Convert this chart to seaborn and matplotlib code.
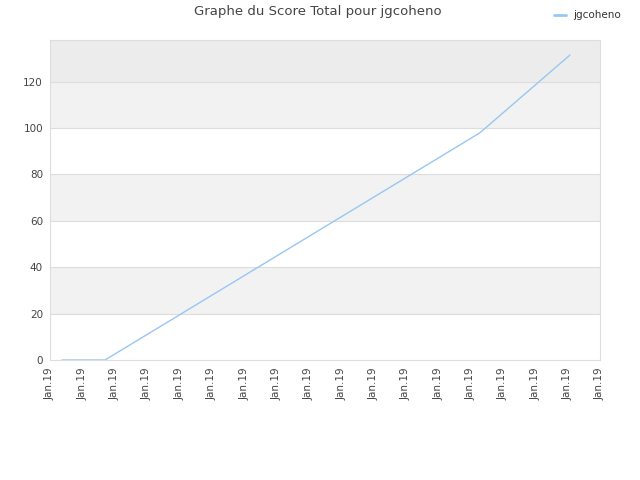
import matplotlib
matplotlib.use("Agg")
import matplotlib.pyplot as plt
import seaborn as sns
import pandas as pd

title = "Graphe du Score Total pour jgcoheno"
series_name = "jgcoheno"
x_pos = [0.37, 1.70, 13.29, 16.07]
scores = [0, 0, 98, 131.5]
tick_labels = ["Jan.19"] * 18

sns.set_theme(style="white")
plt.rcParams['font.family'] = ['DejaVu Sans']

df = pd.DataFrame({"x": x_pos, "score": scores, "name": series_name})

fig = plt.figure(figsize=(6.4, 4.8), dpi=100)
ax = fig.add_axes([50/640, 120/480, 550/640, 320/480])

ymax = 138
bands = [(0, 20, "#ffffff"), (20, 40, "#f2f2f2"), (40, 60, "#ffffff"),
         (60, 80, "#f2f2f2"), (80, 100, "#ffffff"), (100, 120, "#f2f2f2"),
         (120, ymax, "#ececec")]
for lo, hi, c in bands:
    ax.axhspan(lo, hi, color=c, zorder=0, lw=0)
for yv in [20, 40, 60, 80, 100, 120]:
    ax.axhline(yv, color="#dddddd", lw=0.8, zorder=1)

sns.lineplot(data=df, x="x", y="score", hue="name", palette=["#99c6f3"],
             lw=1, ax=ax, zorder=3)

ax.set_xlim(0, 17)
ax.set_ylim(0, ymax)
ax.set_xticks(range(18))
ax.set_xticklabels(tick_labels, rotation=90, fontsize=7.5, color="#444444")
ax.set_yticks([0, 20, 40, 60, 80, 100, 120])
ax.set_yticklabels(["0", "20", "40", "60", "80", "100", "120"], fontsize=7.5, color="#444444")
ax.tick_params(axis="both", length=0, pad=5)
ax.set_xlabel("")
ax.set_ylabel("")
for s in ax.spines.values():
    s.set_color("#dddddd")
    s.set_linewidth(0.8)

fig.text(318/640, 1 - 12/480, title, ha="center", va="center", fontsize=9.5, color="#444444")

leg = ax.legend(loc="upper right", bbox_to_anchor=(630/640, 1 - 1/480),
                bbox_transform=fig.transFigure, frameon=False, fontsize=7.5,
                handlelength=1.1, handletextpad=0.7)
for h in leg.get_lines():
    h.set_linewidth(2)
    h.set_color("#99c6f3")
for t in leg.get_texts():
    t.set_color("#333333")

fig.savefig("out.png", dpi=100)
